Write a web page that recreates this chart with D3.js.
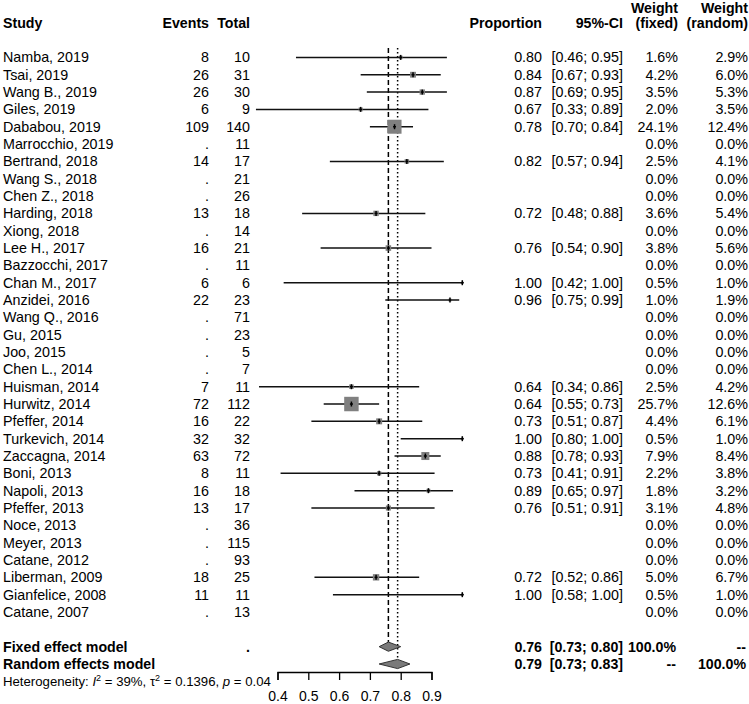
<!DOCTYPE html>
<html><head><meta charset="utf-8">
<script src="https://cdn.jsdelivr.net/npm/d3@7"></script>
<style>
body{margin:0;background:#fff;}
text{font-family:"Liberation Sans",Arial,Helvetica,sans-serif;}
</style></head>
<body><svg id="c" width="749" height="704"></svg>
<script>
const studies=["Namba, 2019","Tsai, 2019","Wang B., 2019","Giles, 2019","Dababou, 2019","Marrocchio, 2019","Bertrand, 2018","Wang S., 2018","Chen Z., 2018","Harding, 2018","Xiong, 2018","Lee H., 2017","Bazzocchi, 2017","Chan M., 2017","Anzidei, 2016","Wang Q., 2016","Gu, 2015","Joo, 2015","Chen L., 2014","Huisman, 2014","Hurwitz, 2014","Pfeffer, 2014","Turkevich, 2014","Zaccagna, 2014","Boni, 2013","Napoli, 2013","Pfeffer, 2013","Noce, 2013","Meyer, 2013","Catane, 2012","Liberman, 2009","Gianfelice, 2008","Catane, 2007"];
const events=[8,26,26,6,109,null,14,null,null,13,null,16,null,6,22,null,null,null,null,7,72,16,32,63,8,16,13,null,null,null,18,11,null];
const totals=[10,31,30,9,140,11,17,21,26,18,14,21,11,6,23,71,23,5,7,11,112,22,32,72,11,18,17,36,115,93,25,11,13];
const proportion=[0.80,0.84,0.87,0.67,0.78,null,0.82,null,null,0.72,null,0.76,null,1.00,0.96,null,null,null,null,0.64,0.64,0.73,1.00,0.88,0.73,0.89,0.76,null,null,null,0.72,1.00,null];
const ciLower=[0.46,0.67,0.69,0.33,0.70,null,0.57,null,null,0.48,null,0.54,null,0.42,0.75,null,null,null,null,0.34,0.55,0.51,0.80,0.78,0.41,0.65,0.51,null,null,null,0.52,0.58,null];
const ciUpper=[0.95,0.93,0.95,0.89,0.84,null,0.94,null,null,0.88,null,0.90,null,1.00,0.99,null,null,null,null,0.86,0.73,0.87,1.00,0.93,0.91,0.97,0.91,null,null,null,0.86,1.00,null];
const weightFixed=[1.6,4.2,3.5,2.0,24.1,0,2.5,0,0,3.6,0,3.8,0,0.5,1.0,0,0,0,0,2.5,25.7,4.4,0.5,7.9,2.2,1.8,3.1,0,0,0,5.0,0.5,0];
const weightRandom=[2.9,6.0,5.3,3.5,12.4,0,4.1,0,0,5.4,0,5.6,0,1.0,1.9,0,0,0,0,4.2,12.6,6.1,1.0,8.4,3.8,3.2,4.8,0,0,0,6.7,1.0,0];
const fixedModel={est:0.76,lo:0.73,hi:0.80,wf:"100.0%",wr:"--"};
const randomModel={est:0.79,lo:0.73,hi:0.83,wf:"--",wr:"100.0%"};
const axisTicks=[0.4,0.5,0.6,0.7,0.8,0.9];

const svg=d3.select("#c");
const x=d3.scaleLinear().domain([0.4,0.9]).range([277.5,431.5]);
const y=d3.scaleLinear().domain([0,32]).range([57.4,612]);
const FS=14.3, FB=14.2;
const f2=d3.format(".2f"), f1=d3.format(".1f");

function txt(xp,yp,s,anchor,bold,size){
  return svg.append("text").attr("x",xp).attr("y",yp).attr("dy","0.35em")
    .attr("text-anchor",anchor||"start").attr("font-size",size||(bold?FB:FS))
    .attr("font-weight",bold?"bold":"normal").text(s);
}
// header
txt(3,23,"Study","start",true);
txt(209,23,"Events","end",true);
txt(250,23,"Total","end",true);
txt(542,23,"Proportion","end",true);
txt(623,23,"95%-CI","end",true);
txt(678,8.5,"Weight","end",true);
txt(678,23.5,"(fixed)","end",true);
txt(748,8.5,"Weight","end",true);
txt(748,23.5,"(random)","end",true);

// reference lines
const yTop=48;
svg.append("line").attr("x1",x(fixedModel.est)).attr("x2",x(fixedModel.est)).attr("y1",yTop).attr("y2",y(34)-4.5)
  .attr("stroke","#000").attr("stroke-width",1.5).attr("stroke-dasharray","5,3");
svg.append("line").attr("x1",x(randomModel.est)).attr("x2",x(randomModel.est)).attr("y1",yTop).attr("y2",y(35)-4.5)
  .attr("stroke","#000").attr("stroke-width",1.5).attr("stroke-dasharray","1.5,2.5");

studies.forEach((s,i)=>{
  const yc=y(i);
  txt(3,yc,s);
  txt(209,yc,events[i]==null?".":events[i],"end");
  txt(250,yc,totals[i],"end");
  if(proportion[i]!=null){
    txt(542,yc,f2(proportion[i]),"end");
    txt(623,yc,"["+f2(ciLower[i])+"; "+f2(ciUpper[i])+"]","end");
    svg.append("line").attr("x1",x(ciLower[i])).attr("x2",x(ciUpper[i])).attr("y1",yc).attr("y2",yc)
      .attr("stroke","#111").attr("stroke-width",1.5);
    const sz=2.85*Math.sqrt(weightFixed[i]);
    svg.append("rect").attr("x",x(proportion[i])-sz/2).attr("y",yc-sz/2).attr("width",sz).attr("height",sz)
      .attr("fill","#808080");
    svg.append("line").attr("x1",x(proportion[i])).attr("x2",x(proportion[i])).attr("y1",yc-2.5).attr("y2",yc+2.5)
      .attr("stroke","#000").attr("stroke-width",1.5);
    svg.append("line").attr("x1",x(proportion[i])-1.5).attr("x2",x(proportion[i])+1.5).attr("y1",yc).attr("y2",yc)
      .attr("stroke","#000").attr("stroke-width",1.5);
  }
  txt(678,yc,f1(weightFixed[i])+"%","end");
  txt(748,yc,f1(weightRandom[i])+"%","end");
});

// summary rows
[[fixedModel,34,"Fixed effect model"],[randomModel,35,"Random effects model"]].forEach(([m,r,label])=>{
  const yc=y(r);
  txt(3,yc,label,"start",true);
  if(r===34) txt(250,yc,".","end",true);
  txt(542,yc,f2(m.est),"end",true);
  txt(623,yc,"["+f2(m.lo)+"; "+f2(m.hi)+"]","end",true);
  txt(676,yc,m.wf,"end",true);
  txt(746,yc,m.wr,"end",true);
  const h=4.6;
  svg.append("path").attr("d",`M${x(m.lo)},${yc}L${x(m.est)},${yc-h}L${x(m.hi)},${yc}L${x(m.est)},${yc+h}Z`)
    .attr("fill","#7a7a7a").attr("stroke","#333").attr("stroke-width",1);
});

// heterogeneity
const het=svg.append("text").attr("x",3).attr("y",y(36)+4.5).attr("font-size",13.2);
het.append("tspan").text("Heterogeneity: ");
het.append("tspan").attr("font-style","italic").text("I");
het.append("tspan").attr("font-size",9).attr("dy",-5).text("2");
het.append("tspan").attr("dy",5).text(" = 39%, \u03C4");
het.append("tspan").attr("font-size",9).attr("dy",-5).text("2");
het.append("tspan").attr("dy",5).text(" = 0.1396, ");
het.append("tspan").attr("font-style","italic").text("p");
het.append("tspan").text(" = 0.04");

// axis
const ax=svg.append("g").attr("transform","translate(0,672)")
  .call(d3.axisBottom(x).tickValues(axisTicks).tickFormat(d3.format(".1f")).tickSize(8).tickSizeOuter(8).tickPadding(11.5));
ax.selectAll("path,line").attr("stroke","#000").attr("stroke-width",1.3);
ax.selectAll("text").attr("font-size",14).attr("fill","#000").attr("font-family","\"Liberation Sans\",Arial,sans-serif");
ax.select(".domain").attr("fill","none");
</script></body></html>
